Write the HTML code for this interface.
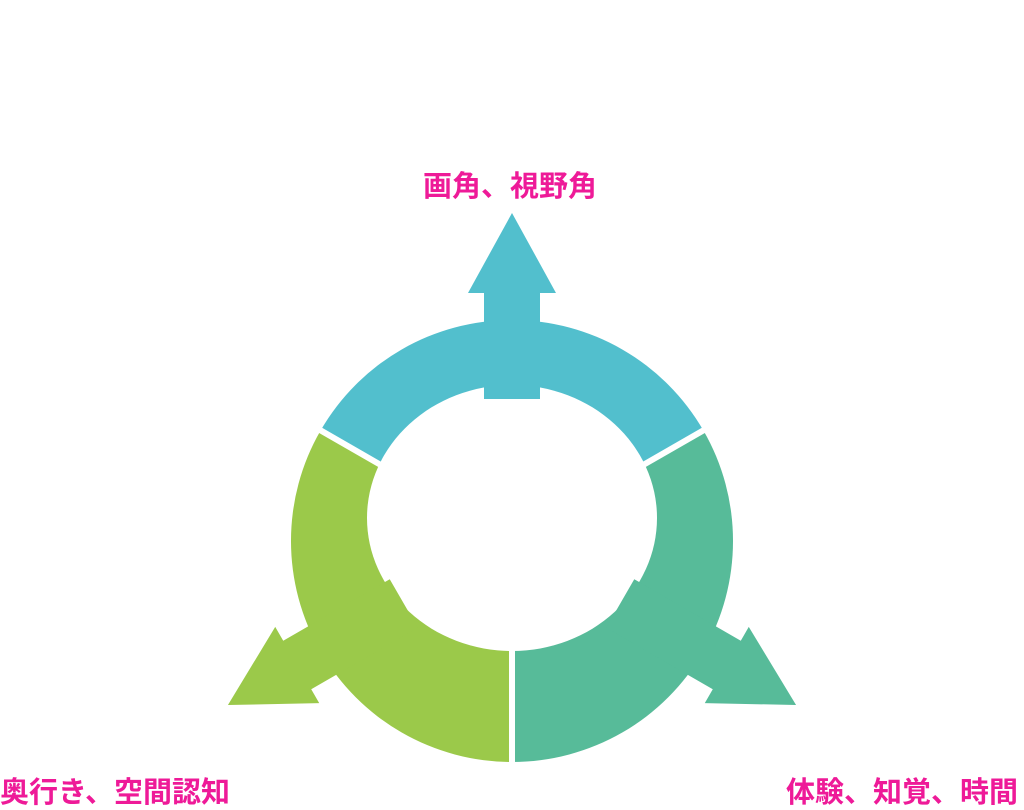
<!DOCTYPE html>
<html><head><meta charset="utf-8"><style>
html,body{margin:0;padding:0;background:#fff;width:1024px;height:810px;overflow:hidden;position:relative;font-family:"Liberation Sans","Noto Sans CJK JP",sans-serif}
.p{position:absolute;color:#EE1A98;font-weight:bold;font-size:29px;line-height:32px;white-space:nowrap;font-family:"Liberation Sans","Noto Sans CJK JP",sans-serif}
.w{position:absolute;color:#fff;font-weight:bold;white-space:nowrap}
</style></head><body>
<svg width="1024" height="810" style="position:absolute;left:0;top:0">
<defs>
<g id="arr"><polygon points="484,399 484,293 468,293 512,213 556,293 540,293 540,399"/></g>
<g id="arr2"><polygon points="484,416 484,293 468,293 512,213 556,293 540,293 540,416"/></g>
</defs>
<path d="M512,541 L320.6,430.5 A221,221 0 0 1 703.4,430.5 Z" fill="#52BFCD"/>
<path d="M512,541 L703.4,430.5 A221,221 0 0 1 512,762 Z" fill="#57BB99"/>
<path d="M512,541 L512,762 A221,221 0 0 1 320.6,430.5 Z" fill="#9BC94A"/>
<ellipse cx="512" cy="518" rx="145" ry="133" fill="#fff"/>
<use href="#arr" fill="#52BFCD"/>
<use href="#arr2" fill="#57BB99" transform="rotate(120 512 541)"/>
<use href="#arr2" fill="#9BC94A" transform="rotate(-120 512 541)"/>
<g stroke="#fff" stroke-width="6">
<line x1="512" y1="600" x2="512" y2="770"/>
<line x1="400" y1="476" x2="313" y2="426"/>
<line x1="624" y1="476" x2="711" y2="426"/>
</g>
</svg>
<div class="w" style="left:0;width:1024px;text-align:center;top:128px;font-size:36px">Frame</div>
<div class="w" style="left:412px;width:200px;text-align:center;top:460px;font-size:32px;line-height:37px">Immersive<br>Content<br>3<br>Dimensions</div>
<div class="w" style="left:40px;top:730px;font-size:36px">Spatial</div>
<div class="w" style="left:790px;top:730px;font-size:36px">Experience</div>
<div class="p" style="left:423px;top:171px">画角、視野角</div>
<div class="p" style="left:0px;top:777px">奥行き、空間認知</div>
<div class="p" style="left:786px;top:777px">体験、知覚、時間</div>
</body></html>
